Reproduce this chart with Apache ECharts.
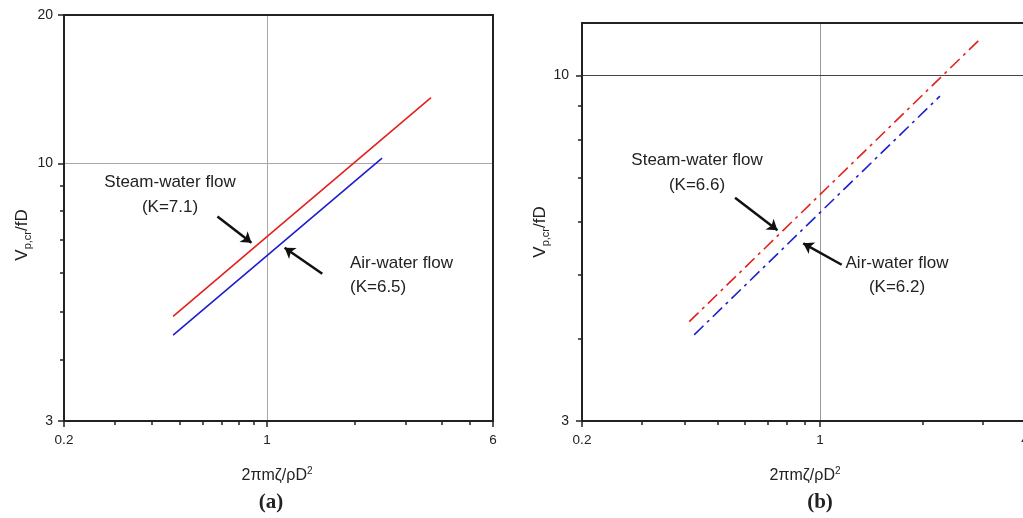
<!DOCTYPE html>
<html>
<head>
<meta charset="utf-8">
<script src="https://cdn.jsdelivr.net/npm/echarts@6/dist/echarts.min.js"></script>
<style>
  html, body { margin: 0; padding: 0; background: #fff; overflow: hidden; }
  #chart { width: 1023px; height: 518px; }
</style>
</head>
<body>
<div id="chart"></div>
<script>
// Panel (a): critical velocity vs. mass-damping, solid lines
const steamA = [[0.475, 4.89], [1, 7.1], [3.67, 13.6]];   // steam-water flow, K = 7.1
const airA   = [[0.475, 4.48], [1, 6.5], [2.49, 10.25]];  // air-water flow,   K = 6.5

// Panel (b): dash-dot lines
const steamB = [[0.413, 4.24], [1, 6.6], [2.95, 11.34]];  // steam-water flow, K = 6.6
const airB   = [[0.427, 4.05], [1, 6.2], [2.25, 9.30]];   // air-water flow,   K = 6.2

// Tick values
const xMajorA = [0.2, 1, 6];
const xMinorA = [0.3, 0.4, 0.5, 0.6, 0.7, 0.8, 0.9, 2, 3, 4, 5];
const yMajorA = [3, 10, 20];
const yMinorA = [4, 5, 6, 7, 8, 9];
const xMajorB = [0.2, 1, 4];
const xMinorB = [0.3, 0.4, 0.5, 0.6, 0.7, 0.8, 0.9, 2, 3];
const yMajorB = [3, 10];
const yMinorB = [4, 5, 6, 7, 8, 9];

const FONT = '"Liberation Sans", Arial, sans-serif';
const INK = '#222';
const RED = '#e3211f';
const BLUE = '#1f1fcf';

function mainAxis(dim, grid, min, max, major, labelMargin, labelSize) {
  return {
    type: 'log', logBase: 10, gridIndex: grid, min: min, max: max,
    position: dim === 'x' ? 'bottom' : 'left',
    z: 3,
    axisLine: { show: true, onZero: false, lineStyle: { color: INK, width: 2 } },
    axisTick: { show: true, customValues: major, length: 6, lineStyle: { color: INK, width: 1.5 } },
    axisLabel: {
      show: true, customValues: major, margin: labelMargin,
      fontSize: labelSize, color: INK, fontFamily: FONT,
      formatter: function (v) { return String(+v.toPrecision(6)); }
    },
    splitLine: { show: false },
    minorTick: { show: false },
    minorSplitLine: { show: false }
  };
}
function minorAxis(dim, grid, min, max, minor) {
  return {
    type: 'log', logBase: 10, gridIndex: grid, min: min, max: max,
    position: dim === 'x' ? 'bottom' : 'left',
    offset: 0,
    z: 3,
    axisLine: { show: false, onZero: false },
    axisTick: { show: true, customValues: minor, length: 4, lineStyle: { color: INK, width: 1.5 } },
    axisLabel: { show: false },
    splitLine: { show: false }
  };
}

function refLines(xi, yi, vColor, hColor) {
  return {
    type: 'line', data: [], xAxisIndex: xi, yAxisIndex: yi, silent: true,
    markLine: {
      silent: true, z: 1, symbol: ['none', 'none'], animation: false,
      label: { show: false },
      data: [
        { xAxis: 1, lineStyle: { color: vColor, width: 1, type: 'solid' } },
        { yAxis: 10, lineStyle: { color: hColor, width: 1, type: 'solid' } }
      ]
    }
  };
}

function arrows(xi, yi, pairs) {
  return {
    type: 'line', data: [], xAxisIndex: xi, yAxisIndex: yi, silent: true,
    markLine: {
      silent: true, z: 5, animation: false,
      symbol: ['none', 'arrow'], symbolSize: 10,
      label: { show: false },
      itemStyle: { color: '#111' },
      lineStyle: { color: '#111', width: 2.5, type: 'solid' },
      data: pairs.map(function (p) {
        return [{ coord: p[0], symbol: 'none' }, { coord: p[1], symbol: 'arrow', symbolSize: 10 }];
      })
    }
  };
}

function curve(name, data, xi, yi, color, dashed) {
  return {
    name: name, type: 'line', data: data, xAxisIndex: xi, yAxisIndex: yi,
    symbol: 'none', showSymbol: false, smooth: false, z: 2,
    lineStyle: { color: color, width: 1.6, type: dashed ? [13, 5, 3, 5] : 'solid' }
  };
}

function label(text, x, y, align) {
  return {
    type: 'text', x: x, y: y, silent: true, z: 10,
    style: { text: text, fontFamily: FONT, fontSize: 17, fill: INK,
             align: align || 'center', verticalAlign: 'middle' }
  };
}
function yTitle(x, y) {
  return {
    type: 'text', x: x, y: y, rotation: Math.PI / 2, silent: true, z: 10,
    style: {
      text: '{v|V}{s|p,cr}{v|/fD}', align: 'center', verticalAlign: 'middle',
      rich: {
        v: { fontFamily: FONT, fontSize: 17, lineHeight: 22, fill: INK },
        s: { fontFamily: FONT, fontSize: 11, lineHeight: 12, verticalAlign: 'bottom', fill: INK }
      }
    }
  };
}
function xTitle(x, y) {
  return {
    type: 'text', x: x, y: y, silent: true, z: 10,
    style: {
      text: '{v|2\u03c0m\u03b6/\u03c1D}{s|2}', align: 'center', verticalAlign: 'middle',
      rich: {
        v: { fontFamily: FONT, fontSize: 16, lineHeight: 20, fill: INK },
        s: { fontFamily: FONT, fontSize: 10, lineHeight: 10, verticalAlign: 'top', fill: INK }
      }
    }
  };
}
function panelTag(text, x, y) {
  return {
    type: 'text', x: x, y: y, silent: true, z: 10,
    style: { text: text, fontFamily: '"Liberation Serif", "Times New Roman", serif',
             fontWeight: 'bold', fontSize: 21, fill: INK, align: 'center', verticalAlign: 'middle' }
  };
}

const chart = echarts.init(document.getElementById('chart'), null, { renderer: 'canvas' });
chart.setOption({
  animation: false,
  backgroundColor: '#fff',
  textStyle: { fontFamily: FONT },
  grid: [
    { left: 64, top: 15, width: 429, height: 406, show: true, z: 2,
      borderColor: INK, borderWidth: 2, backgroundColor: 'transparent',
      containLabel: false, outerBoundsMode: 'none' },
    { left: 582, top: 23, width: 443, height: 398, show: true, z: 2,
      borderColor: INK, borderWidth: 2, backgroundColor: 'transparent',
      containLabel: false, outerBoundsMode: 'none' }
  ],
  xAxis: [
    mainAxis('x', 0, 0.2, 6, xMajorA, 12, 13.5),
    minorAxis('x', 0, 0.2, 6, xMinorA),
    mainAxis('x', 1, 0.2, 4, xMajorB, 12, 13.5),
    minorAxis('x', 1, 0.2, 4, xMinorB)
  ],
  yAxis: [
    mainAxis('y', 0, 3, 20, yMajorA, 11, 14),
    minorAxis('y', 0, 3, 20, yMinorA),
    mainAxis('y', 1, 3, 12, yMajorB, 13, 14),
    minorAxis('y', 1, 3, 12, yMinorB)
  ],
  series: [
    refLines(0, 0, '#a8a8a8', '#a8a8a8'),
    refLines(2, 2, '#999', '#444'),
    curve('Steam-water flow (a)', steamA, 0, 0, RED, false),
    curve('Air-water flow (a)', airA, 0, 0, BLUE, false),
    curve('Steam-water flow (b)', steamB, 2, 2, RED, true),
    curve('Air-water flow (b)', airB, 2, 2, BLUE, true),
    arrows(0, 0, [
      [[0.675, 7.8], [0.884, 6.9]],
      [[1.55, 5.97], [1.15, 6.74]]
    ]),
    arrows(2, 2, [
      [[0.563, 6.53], [0.75, 5.83]],
      [[1.158, 5.17], [0.893, 5.57]]
    ])
  ],
  graphic: [
    label('Steam-water flow', 170, 182),
    label('(K=7.1)', 170, 207),
    label('Air-water flow', 350, 263, 'left'),
    label('(K=6.5)', 350, 287, 'left'),
    label('Steam-water flow', 697, 160),
    label('(K=6.6)', 697, 185),
    label('Air-water flow', 897, 263),
    label('(K=6.2)', 897, 287),
    yTitle(22, 235),
    yTitle(540, 232),
    xTitle(277, 476),
    xTitle(805, 476),
    panelTag('(a)', 271, 503),
    panelTag('(b)', 820, 503)
  ]
});
</script>
</body>
</html>
